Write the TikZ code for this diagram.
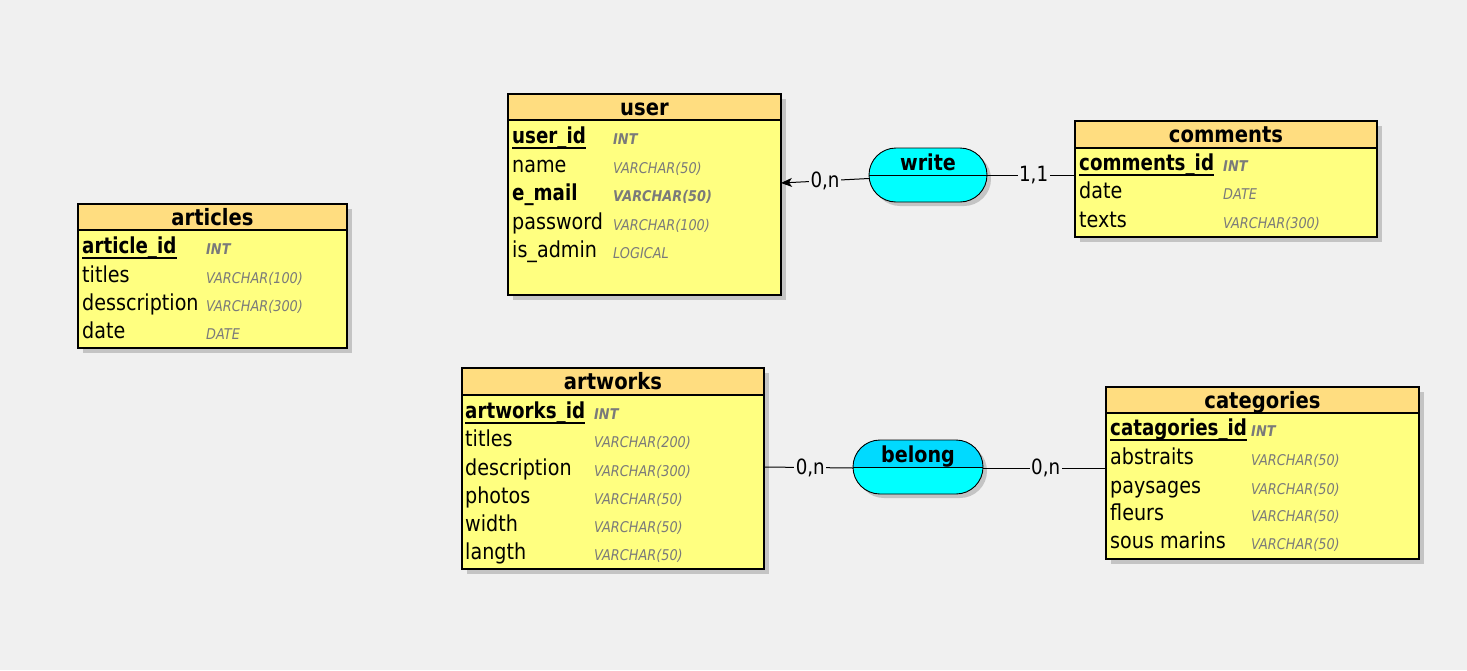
\documentclass[tikz,border=0pt]{standalone}
\usepackage{fontspec}
\setmainfont{DejaVu Sans}[FakeStretch=0.87]
\newfontfamily\pkfont{DejaVu Sans}[FakeStretch=0.83]
\usetikzlibrary{shapes.misc,shadows,arrows.meta,calc}
\definecolor{bgcol}{HTML}{F0F0F0}
\definecolor{hdrcol}{HTML}{FFDD80}
\definecolor{bodycol}{HTML}{FFFF80}
\definecolor{typegray}{HTML}{7A7A7A}
\definecolor{pillcol}{HTML}{00FFFF}
\definecolor{pilltop}{HTML}{00DAFF}
\definecolor{shadowcol}{HTML}{C4C4C4}
\tikzset{
  tbl/.style={draw, line width=1.1pt, fill=bodycol, anchor=north west, inner sep=0, outer sep=0,
    drop shadow={shadow xshift=5pt, shadow yshift=-5pt, fill=shadowcol, opacity=1}},
  hdr/.style={draw, line width=1.1pt, fill=hdrcol, anchor=north west, inner sep=0, outer sep=0},
  ttl/.style={anchor=base, inner sep=0, font=\fontsize{22.5}{26}\selectfont\bfseries},
  fname/.style={anchor=base west, inner sep=0, font=\fontsize{22}{26}\selectfont},
  fpk/.style={anchor=base west, inner sep=0, font=\pkfont\fontsize{22}{26}\selectfont\bfseries},
  ftype/.style={anchor=base west, inner sep=0, text=typegray, font=\fontsize{14.8}{17}\selectfont\itshape},
  ftypeb/.style={anchor=base west, inner sep=0, text=typegray, font=\fontsize{14.8}{17}\selectfont\bfseries\itshape},
  uline/.style={line width=1.3pt},
  pill/.style={shape=rounded rectangle, draw, line width=0.9pt, fill=pillcol, minimum height=54pt, inner sep=0, outer sep=0,
    drop shadow={shadow xshift=4pt, shadow yshift=-4pt, fill=shadowcol, opacity=1}},
  ptxt/.style={anchor=base, inner sep=0, font=\fontsize{22}{26}\selectfont\bfseries},
  conn/.style={line width=1pt, draw=black},
  card/.style={fill=bgcol, inner sep=1.5pt, font=\fontsize{21}{24}\selectfont},
}
\begin{document}
\begin{tikzpicture}[x=1pt,y=-1pt]
\fill[bgcol] (0,0) rectangle (1467,670);
\useasboundingbox (0,0) rectangle (1467,670);

% ---------------- user
\node[tbl, minimum width=273pt, minimum height=201pt] (user) at (508,94) {};
\node[hdr, minimum width=273pt, minimum height=26pt] (userH) at (508,94) {};
\node[ttl] (userT) at (644.5,115) {user};
\node[fpk] (userPK) at (512,143) {user\_id};
\node[ftypeb] (userPKt) at (613,144) {INT};
\draw[uline] ([yshift=-5pt]userPK.base west) -- ([yshift=-5pt]userPK.base east);
\node[fname] (userN) at (512,172) {name};
\node[ftype] (userNt) at (613,173) {VARCHAR(50)};
\node[fpk] (userM) at (512,200) {e\_mail};
\node[ftypeb] (userMt) at (613,201) {VARCHAR(50)};
\node[fname] (userP) at (512,229) {password};
\node[ftype] (userPt) at (613,230) {VARCHAR(100)};
\node[fname] (userA) at (512,257) {is\_admin};
\node[ftype] (userAt) at (613,258) {LOGICAL};

% ---------------- comments
\node[tbl, minimum width=302pt, minimum height=116pt] (comments) at (1075,121) {};
\node[hdr, minimum width=302pt, minimum height=27pt] (commentsH) at (1075,121) {};
\node[ttl] (commentsT) at (1226,142) {comments};
\node[fpk] (comPK) at (1079,170) {comments\_id};
\node[ftypeb] (comPKt) at (1223,171) {INT};
\draw[uline] ([yshift=-5pt]comPK.base west) -- ([yshift=-5pt]comPK.base east);
\node[fname] (comD) at (1079,198) {date};
\node[ftype] (comDt) at (1223,199) {DATE};
\node[fname] (comX) at (1079,227) {texts};
\node[ftype] (comXt) at (1223,228) {VARCHAR(300)};

% ---------------- articles
\node[tbl, minimum width=269pt, minimum height=144pt] (articles) at (78,204) {};
\node[hdr, minimum width=269pt, minimum height=26pt] (articlesH) at (78,204) {};
\node[ttl] (articlesT) at (212.5,225) {articles};
\node[fpk] (artPK) at (82,253) {article\_id};
\node[ftypeb] (artPKt) at (206,254) {INT};
\draw[uline] ([yshift=-5pt]artPK.base west) -- ([yshift=-5pt]artPK.base east);
\node[fname] (artT) at (82,282) {titles};
\node[ftype] (artTt) at (206,283) {VARCHAR(100)};
\node[fname] (artD) at (82,310) {desscription};
\node[ftype] (artDt) at (206,311) {VARCHAR(300)};
\node[fname] (artDa) at (82,338) {date};
\node[ftype] (artDat) at (206,339) {DATE};

% ---------------- artworks
\node[tbl, minimum width=302pt, minimum height=201pt] (artworks) at (462,368) {};
\node[hdr, minimum width=302pt, minimum height=27pt] (artworksH) at (462,368) {};
\node[ttl] (artworksT) at (613,389) {artworks};
\node[fpk] (awPK) at (465,418) {artworks\_id};
\node[ftypeb] (awPKt) at (594,419) {INT};
\draw[uline] ([yshift=-5pt]awPK.base west) -- ([yshift=-5pt]awPK.base east);
\node[fname] (awT) at (465,446) {titles};
\node[ftype] (awTt) at (594,447) {VARCHAR(200)};
\node[fname] (awD) at (465,475) {description};
\node[ftype] (awDt) at (594,476) {VARCHAR(300)};
\node[fname] (awP) at (465,503) {photos};
\node[ftype] (awPt) at (594,504) {VARCHAR(50)};
\node[fname] (awW) at (465,531) {width};
\node[ftype] (awWt) at (594,532) {VARCHAR(50)};
\node[fname] (awL) at (465,559) {langth};
\node[ftype] (awLt) at (594,560) {VARCHAR(50)};

% ---------------- categories
\node[tbl, minimum width=313pt, minimum height=172pt] (categories) at (1106,387) {};
\node[hdr, minimum width=313pt, minimum height=26pt] (categoriesH) at (1106,387) {};
\node[ttl] (categoriesT) at (1262.5,408) {categories};
\node[fpk] (catPK) at (1110,435) {catagories\_id};
\node[ftypeb] (catPKt) at (1251,436) {INT};
\draw[uline] ([yshift=-5pt]catPK.base west) -- ([yshift=-5pt]catPK.base east);
\node[fname] (catA) at (1110,464) {abstraits};
\node[ftype] (catAt) at (1251,465) {VARCHAR(50)};
\node[fname] (catP) at (1110,493) {paysages};
\node[ftype] (catPt) at (1251,494) {VARCHAR(50)};
\node[fname] (catF) at (1110,520) {fleurs};
\node[ftype] (catFt) at (1251,521) {VARCHAR(50)};
\node[fname] (catS) at (1110,548) {sous marins};
\node[ftype] (catSt) at (1251,549) {VARCHAR(50)};

% ---------------- associations
\node[pill, minimum width=118pt] (write) at (928,175) {};
\draw[line width=0.9pt] (write.west) -- (write.east);
\node[ptxt] (writeT) at (928,170) {write};

\node[pill, minimum width=130pt,
  path picture={\fill[pilltop] (path picture bounding box.north west) rectangle (path picture bounding box.east);}]
  (belong) at (918,467) {};
\draw[line width=0.9pt] (belong.west) -- (belong.east);
\node[ptxt] (belongT) at (918,462) {belong};

% ---------------- connectors
\draw[conn, -{Stealth[length=11pt,width=9pt,inset=3pt]}] ([yshift=-3.5pt]write.west) -- node[card] (c1) {0,n} ([yshift=11.5pt]user.east);
\draw[conn] (write.east) -- node[card, pos=0.53] (c2) {1,1} (write.east -| comments.west);
\draw[conn] (artworks.east |- belong.west) -- node[card, pos=0.52] (c3) {0,n} ([yshift=-1pt]belong.west);
\draw[conn] ([yshift=-1pt]belong.east) -- node[card, pos=0.51] (c4) {0,n} ([yshift=-1pt]belong.east -| categories.west);
\end{tikzpicture}
\end{document}
